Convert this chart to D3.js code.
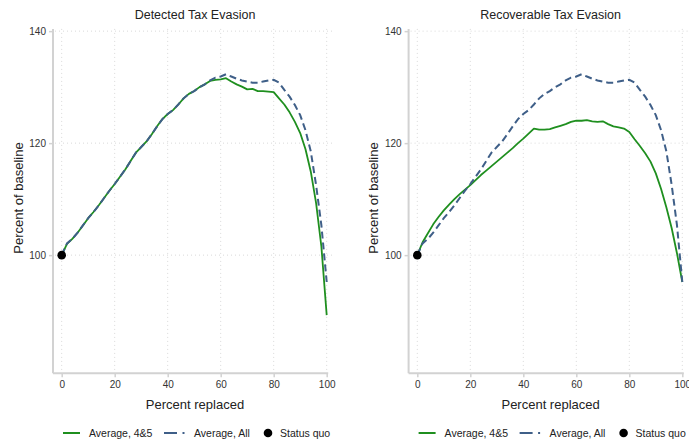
<!DOCTYPE html>
<html><head><meta charset="utf-8">
<script src="https://cdn.jsdelivr.net/npm/d3@7"></script>
<style>body{margin:0;background:#fff}svg{display:block;font-family:"Liberation Sans",Arial,sans-serif}</style>
</head><body><svg id="c" width="689" height="442"></svg>
<script>
const xs = [0,2,4,6,8,10,12,14,16,18,20,22,24,26,28,30,32,34,36,38,40,42,44,46,48,50,52,54,56,58,60,62,64,66,68,70,72,74,76,78,80,82,84,86,88,90,92,94,96,98,100];
const detected45 = [100,102.0,102.9,104.0,105.3,106.6,107.7,108.9,110.2,111.5,112.7,114.0,115.3,116.8,118.3,119.3,120.3,121.6,123.0,124.3,125.2,125.9,126.9,128.0,128.8,129.3,130.0,130.5,131.1,131.3,131.4,131.6,131.0,130.5,130.1,129.6,129.7,129.3,129.3,129.2,129.1,128.0,126.9,125.5,123.8,121.8,118.9,114.9,109.3,101.5,89.3];
const averageAll = [100,102.1,102.9,104.0,105.3,106.6,107.7,108.9,110.2,111.5,112.7,114.0,115.3,116.8,118.3,119.3,120.3,121.6,123.0,124.3,125.2,125.9,126.9,128.0,128.8,129.3,130.0,130.5,131.2,131.7,131.9,132.3,131.9,131.5,131.2,131.0,130.8,130.8,131.0,131.2,131.3,130.8,129.5,128.3,126.8,125.0,122.3,118.5,112.5,105.3,95.2];
const recoverable45 = [100,102.3,103.9,105.5,106.8,108.0,109.0,110.0,110.9,111.7,112.5,113.4,114.3,115.1,115.9,116.7,117.5,118.3,119.1,120.0,120.8,121.7,122.6,122.4,122.4,122.5,122.8,123.1,123.4,123.8,124.0,124.0,124.1,123.9,123.8,123.9,123.4,123.0,122.8,122.6,122.0,120.7,119.5,118.2,116.7,114.6,111.8,108.5,104.8,100.3,95.2];
const titles = ["Detected Tax Evasion","Recoverable Tax Evasion"];
const xTicks = [0,20,40,60,80,100];
const yTicks = [100,120,140];
const statusQuo = {x:0, y:100};
const legendLabels = ["Average, 4&5","Average, All","Status quo"];

const GREEN = "#1f8f1f", BLUE = "#3f5f88", AXIS = "#d2d2d2", GRID = "#d9d9d9";
const svg = d3.select("#c");

const panels = [
  {dx:0, title:titles[0], s45:detected45, sAll:averageAll},
  {dx:355.6, title:titles[1], s45:recoverable45, sAll:averageAll}
];

panels.forEach(p => {
  const g = svg.append("g").attr("transform", `translate(${p.dx},0)`);
  const x = d3.scaleLinear().domain([0,100]).range([61.7,326.7]);
  const y = d3.scaleLinear().domain([78.9,140.4]).range([373.3,28.9]);
  const axX = 53, top = y.range()[1], bot = y.range()[0];

  // gridlines
  g.append("g").selectAll("line").data(yTicks).join("line")
    .attr("x1", axX+2).attr("x2", x(100)+6).attr("y1", d=>y(d)).attr("y2", d=>y(d))
    .attr("stroke", GRID).attr("stroke-width",1).attr("stroke-dasharray","1,3");
  g.append("g").selectAll("line").data(xTicks).join("line")
    .attr("x1", d=>x(d)).attr("x2", d=>x(d)).attr("y1", top).attr("y2", bot-1)
    .attr("stroke", GRID).attr("stroke-width",1).attr("stroke-dasharray","1,3");

  // axes
  const ya = g.append("g").attr("transform",`translate(${axX},0)`)
    .call(d3.axisLeft(y).tickValues(yTicks).tickSize(4).tickPadding(3));
  ya.select(".domain").remove();
  ya.append("line").attr("x1",0).attr("x2",0).attr("y1",top).attr("y2",bot).attr("stroke",AXIS).attr("stroke-width",2);
  ya.selectAll(".tick line").attr("stroke",AXIS).attr("stroke-width",1.5);
  ya.selectAll(".tick text").attr("fill","#333").style("font-size","10px");

  const xa = g.append("g").attr("transform",`translate(0,${bot})`)
    .call(d3.axisBottom(x).tickValues(xTicks).tickSize(4).tickPadding(4));
  xa.select(".domain").remove();
  xa.append("line").attr("x1",axX).attr("x2",x(100)+1.5).attr("y1",0).attr("y2",0).attr("stroke",AXIS).attr("stroke-width",2);
  xa.selectAll(".tick line").attr("stroke",AXIS).attr("stroke-width",1.5);
  xa.selectAll(".tick text").attr("fill","#333").style("font-size","10px");

  // lines
  const line = d3.line().x((d,i)=>x(xs[i])).y(d=>y(d));
  g.append("path").attr("d", line(p.s45)).attr("fill","none").attr("stroke",GREEN).attr("stroke-width",1.8).attr("stroke-linejoin","round");
  g.append("path").attr("d", line(p.sAll)).attr("fill","none").attr("stroke",BLUE).attr("stroke-width",2).attr("stroke-dasharray","7,4");
  g.append("circle").attr("cx",x(statusQuo.x)).attr("cy",y(statusQuo.y)).attr("r",4.3).attr("fill","#000");

  // titles
  g.append("text").attr("x",195).attr("y",18.5).attr("text-anchor","middle").style("font-size","12.5px").attr("fill","#222").text(p.title);
  g.append("text").attr("x",195).attr("y",409).attr("text-anchor","middle").style("font-size","13px").attr("fill","#222").text("Percent replaced");
  g.append("text").attr("transform",`translate(22.5,198) rotate(-90)`).attr("text-anchor","middle").style("font-size","13px").attr("fill","#222").text("Percent of baseline");

  // legend
  const ly = 433;
  const lg = g.append("g");
  lg.append("line").attr("x1",63).attr("x2",80).attr("y1",ly).attr("y2",ly).attr("stroke",GREEN).attr("stroke-width",2);
  lg.append("text").attr("x",89).attr("y",ly+3.8).style("font-size","10.5px").attr("fill","#222").text(legendLabels[0]);
  lg.append("line").attr("x1",164).attr("x2",177).attr("y1",ly).attr("y2",ly).attr("stroke",BLUE).attr("stroke-width",2);
  lg.append("line").attr("x1",182.5).attr("x2",184.5).attr("y1",ly).attr("y2",ly).attr("stroke",BLUE).attr("stroke-width",2);
  lg.append("text").attr("x",194).attr("y",ly+3.8).style("font-size","10.5px").attr("fill","#222").text(legendLabels[1]);
  lg.append("circle").attr("cx",268).attr("cy",ly).attr("r",4.3).attr("fill","#000");
  lg.append("text").attr("x",280).attr("y",ly+3.8).style("font-size","10.5px").attr("fill","#222").text(legendLabels[2]);
});
</script></body></html>
